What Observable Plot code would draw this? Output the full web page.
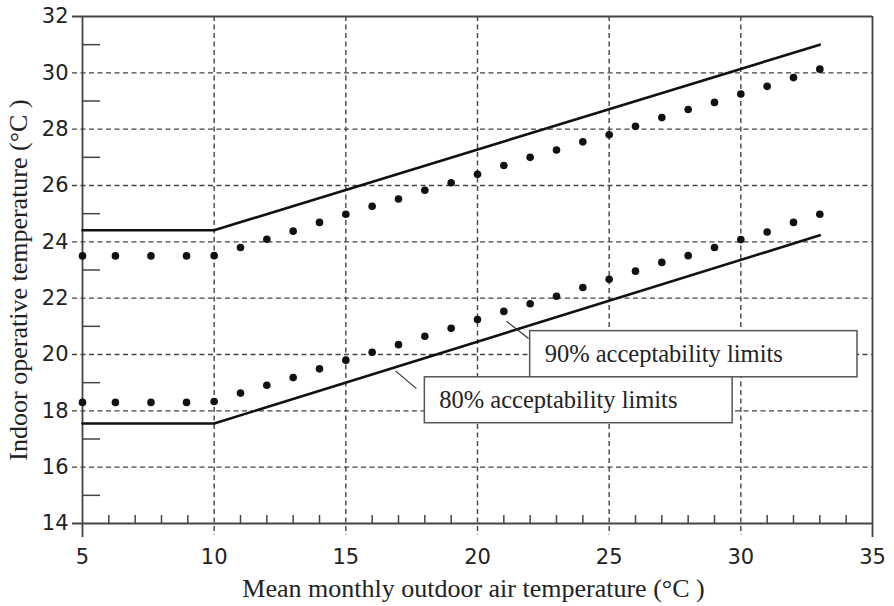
<!DOCTYPE html>
<html>
<head>
<meta charset="utf-8">
<script src="https://cdn.jsdelivr.net/npm/d3@7"></script>
<script src="https://cdn.jsdelivr.net/npm/@observablehq/plot@0.6"></script>
<style>
  html, body { margin: 0; padding: 0; background: #fff; }
</style>
</head>
<body>
<div id="chart"></div>
<script>
// ---- data ----
const xTickLabels = [5, 10, 15, 20, 25, 30, 35];
const yTickLabels = [14, 16, 18, 20, 22, 24, 26, 28, 30, 32];
const xGridValues = [10, 15, 20, 25, 30];
const yGridValues = [16, 18, 20, 22, 24, 26, 28, 30];
const xMinorTicks = [6,7,8,9,11,12,13,14,16,17,18,19,21,22,23,24,26,27,28,29,31,32,33,34];
const yMinorTicks = [15, 17, 19, 21, 23, 25, 27, 29, 31];

// 80% acceptability limits (solid lines)
const limitX = [5, 10, 33];
const limit80Upper = [24.41, 24.41, 31.0];
const limit80Lower = [17.55, 17.55, 24.23];

// 90% acceptability limits (dots)
const dotX = [5, 6.25, 7.6, 8.95, 10, 11, 12, 13, 14, 15, 16, 17, 18, 19, 20, 21, 22, 23, 24, 25, 26, 27, 28, 29, 30, 31, 32, 33];
const limit90Upper = [23.5, 23.5, 23.5, 23.5, 23.51, 23.80, 24.09, 24.38, 24.69, 24.98, 25.26, 25.52, 25.83, 26.10, 26.40, 26.71, 27.00, 27.26, 27.55, 27.80, 28.10, 28.41, 28.70, 28.95, 29.25, 29.52, 29.83, 30.13];
const limit90Lower = [18.3, 18.3, 18.3, 18.3, 18.33, 18.63, 18.91, 19.18, 19.49, 19.80, 20.08, 20.35, 20.65, 20.93, 21.24, 21.53, 21.80, 22.07, 22.38, 22.67, 22.96, 23.27, 23.51, 23.80, 24.08, 24.35, 24.69, 24.98];

// annotation boxes and leader lines (data coordinates)
const noteLabels = ["90% acceptability limits", "80% acceptability limits"];
const noteX1 = [22.0, 18.0];
const noteX2 = [34.43, 29.69];
const noteY1 = [19.19, 17.56];
const noteY2 = [20.83, 19.19];
const noteTextX = [22.55, 18.55];
const noteTextY = [20.0, 18.37];
const leaderX1 = [21.10, 16.89];
const leaderY1 = [21.18, 19.42];
const leaderX2 = [21.94, 17.68];
const leaderY2 = [20.57, 18.79];

const xTitle = "Mean monthly outdoor air temperature (°C )";
const yTitle = "Indoor operative temperature (°C )";

// ---- tables ----
const lines = limitX.flatMap((x, i) => [
  {x, y: limit80Upper[i], s: "upper"},
  {x, y: limit80Lower[i], s: "lower"}
]);
const dots = dotX.flatMap((x, i) => [
  {x, y: limit90Upper[i]},
  {x, y: limit90Lower[i]}
]);
const notes = noteLabels.map((t, i) => ({
  t, x1: noteX1[i], x2: noteX2[i], y1: noteY1[i], y2: noteY2[i],
  tx: noteTextX[i], ty: noteTextY[i],
  lx1: leaderX1[i], ly1: leaderY1[i], lx2: leaderX2[i], ly2: leaderY2[i]
}));

const W = 894, H = 606, mL = 82, mR = 22, mT = 16, mB = 83;
const innerW = W - mL - mR, innerH = H - mT - mB;
const axisColor = "#444";
const dash = "5,3.5";
const serif = "'Liberation Serif', 'Times New Roman', serif";
const sans = "'DejaVu Sans', Arial, sans-serif";

const chart = Plot.plot({
  width: W, height: H,
  marginLeft: mL, marginRight: mR, marginTop: mT, marginBottom: mB,
  style: {background: "#fff", fontFamily: sans, color: "#222"},
  x: {domain: [5, 35], axis: null},
  y: {domain: [14, 32], axis: null},
  marks: [
    // dashed grid
    Plot.tickX(xGridValues, {x: d => d, insetBottom: -12, stroke: axisColor, strokeWidth: 1.4, strokeDasharray: dash}),
    Plot.tickY(yGridValues, {y: d => d, insetLeft: -10, stroke: axisColor, strokeWidth: 1.4, strokeDasharray: dash}),
    // minor inward ticks
    Plot.tickX(xMinorTicks, {x: d => d, insetTop: innerH - 8, stroke: axisColor, strokeWidth: 1.5}),
    Plot.tickY(yMinorTicks, {y: d => d, insetRight: innerW - 18, stroke: axisColor, strokeWidth: 1.5}),
    // frame lines
    Plot.tickX([5, 35], {x: d => d, insetBottom: -14, stroke: axisColor, strokeWidth: 1.8}),
    Plot.tickY([14, 32], {y: d => d, insetLeft: -10, stroke: axisColor, strokeWidth: 1.8}),
    // tick labels
    Plot.axisX(xTickLabels, {tickSize: 0, tickPadding: 26, fontSize: 21, fontFamily: sans, label: null, color: "#222"}),
    Plot.axisY(yTickLabels, {tickSize: 0, tickPadding: 14, fontSize: 21, fontFamily: sans, label: null, color: "#222"}),
    // data
    Plot.line(lines, {x: "x", y: "y", z: "s", stroke: "#111", strokeWidth: 2.6}),
    Plot.dot(dots, {x: "x", y: "y", r: 3.8, fill: "#111", stroke: null}),
    // annotations
    Plot.link(notes, {x1: "lx1", y1: "ly1", x2: "lx2", y2: "ly2", stroke: "#333", strokeWidth: 1.2}),
    Plot.rect(notes, {x1: "x1", x2: "x2", y1: "y1", y2: "y2", fill: "#fff", stroke: "#555", strokeWidth: 1.5}),
    Plot.text(notes, {x: "tx", y: "ty", text: "t", textAnchor: "start", lineAnchor: "middle", fontSize: 24.5, fontFamily: serif, fill: "#222"}),
    // axis titles
    Plot.text([xTitle], {frameAnchor: "bottom", textAnchor: "middle", lineAnchor: "middle", dx: -4, dy: 65, fontSize: 26, fontFamily: serif, fill: "#222"}),
    Plot.text([yTitle], {frameAnchor: "left", textAnchor: "middle", lineAnchor: "middle", rotate: -90, dx: -64, dy: 10, fontSize: 26, fontFamily: serif, fill: "#222"})
  ]
});
document.getElementById("chart").appendChild(chart);
</script>
</body>
</html>
